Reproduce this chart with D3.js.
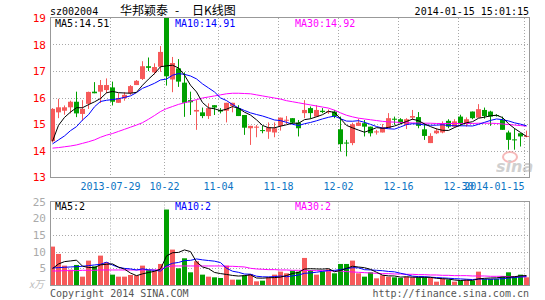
<!DOCTYPE html>
<html>
<head>
<meta charset="utf-8">
<script src="https://cdnjs.cloudflare.com/ajax/libs/d3/7.8.5/d3.min.js"></script>
<style>
body { margin: 0; background: #fff; }
svg text { font-family: "DejaVu Sans Mono", monospace; font-size: 10px; }
</style>
</head>
<body>
<div id="vis"></div>
<script>
// trading days shown (stock suspended between 08-08 and 10-22)
var dates = [
	"2013-07-15","2013-07-16","2013-07-17","2013-07-18","2013-07-19","2013-07-22","2013-07-23","2013-07-24","2013-07-25","2013-07-26",
	"2013-07-29","2013-07-30","2013-07-31","2013-08-01","2013-08-02","2013-08-05","2013-08-06","2013-08-07","2013-08-08","2013-10-22",
	"2013-10-23","2013-10-24","2013-10-25","2013-10-28","2013-10-29","2013-10-30","2013-10-31","2013-11-01","2013-11-04","2013-11-05",
	"2013-11-06","2013-11-07","2013-11-08","2013-11-11","2013-11-12","2013-11-13","2013-11-14","2013-11-15","2013-11-18","2013-11-19",
	"2013-11-20","2013-11-21","2013-11-22","2013-11-25","2013-11-26","2013-11-27","2013-11-28","2013-11-29","2013-12-02","2013-12-03",
	"2013-12-04","2013-12-05","2013-12-06","2013-12-09","2013-12-10","2013-12-11","2013-12-12","2013-12-13","2013-12-16","2013-12-17",
	"2013-12-18","2013-12-19","2013-12-20","2013-12-23","2013-12-24","2013-12-25","2013-12-26","2013-12-27","2013-12-30","2013-12-31",
	"2014-01-02","2014-01-03","2014-01-06","2014-01-07","2014-01-08","2014-01-09","2014-01-10","2014-01-13","2014-01-14","2014-01-15"
];

var open = [
	14.35,15.44,15.50,15.63,15.84,15.38,15.76,16.22,16.22,16.28,
	16.38,15.80,15.97,16.16,16.47,16.70,17.18,16.95,17.16,19.00,
	16.68,17.10,16.56,15.90,15.47,15.44,15.30,15.71,15.53,15.50,
	15.68,15.60,15.34,14.84,14.86,14.77,14.71,14.68,14.93,15.13,
	15.22,15.05,15.41,15.60,15.28,15.50,15.45,15.47,14.80,14.30,
	14.28,14.93,15.03,14.90,14.69,14.68,14.84,15.20,15.18,14.97,
	15.24,15.26,14.80,14.28,14.65,14.68,15.12,14.90,15.28,15.03,
	15.47,15.24,15.53,15.47,15.34,15.15,14.68,14.42,14.65,14.53
];
var high = [
	15.60,15.95,15.70,15.88,16.22,15.90,16.22,16.58,16.66,16.72,
	16.60,16.16,16.20,16.47,16.66,17.37,17.51,17.29,17.94,19.02,
	17.53,17.45,16.95,16.22,15.90,15.62,15.78,15.71,15.60,15.80,
	15.80,15.71,15.34,14.93,14.96,14.93,15.06,15.06,15.24,15.30,
	15.22,15.15,15.90,15.66,15.71,15.60,15.55,15.53,15.28,14.40,
	15.05,15.20,15.15,14.90,14.78,15.00,15.41,15.28,15.22,15.22,
	15.53,15.45,15.03,14.65,14.84,15.10,15.18,15.18,15.35,15.25,
	15.47,15.75,15.62,15.50,15.37,15.28,14.75,14.84,14.65,14.75
];
var low = [
	14.30,15.22,15.35,15.40,15.26,15.13,15.57,16.16,15.79,16.16,
	15.70,15.80,15.88,16.10,16.47,16.66,17.00,16.87,16.97,16.45,
	16.20,16.40,15.27,15.34,14.78,15.22,15.19,15.34,15.40,15.06,
	15.44,15.30,14.59,14.21,14.50,14.65,14.44,14.50,14.75,15.00,
	15.00,14.53,15.22,15.20,15.28,15.41,15.38,15.22,13.96,13.78,
	14.20,14.93,14.53,14.53,14.60,14.68,14.84,14.97,15.00,14.81,
	15.15,14.84,14.40,14.28,14.62,14.65,14.84,14.87,14.93,14.90,
	15.18,15.24,15.20,14.93,15.28,14.78,14.03,14.03,14.15,14.50
];
var close = [
	15.57,15.63,15.63,15.84,15.40,15.57,16.21,16.16,16.47,16.47,
	15.84,15.97,16.10,16.43,16.63,17.18,17.12,17.15,17.72,16.80,
	17.30,16.60,15.80,15.82,15.53,15.30,15.60,15.62,15.47,15.80,
	15.80,15.30,14.86,14.93,14.90,14.74,14.87,14.84,15.24,15.16,
	15.05,14.84,15.53,15.41,15.53,15.45,15.48,15.30,14.24,14.27,
	14.99,15.05,14.90,14.65,14.72,14.87,15.22,15.16,15.05,15.18,
	15.30,14.93,14.55,14.55,14.75,15.03,14.90,15.10,15.03,15.18,
	15.22,15.56,15.30,15.28,15.30,14.78,14.40,14.40,14.53,14.55
];
// volume, unit 万
var volume = [
	11.5,9.3,5.8,4.6,6.0,2.5,7.3,5.6,8.8,6.8,
	3.1,2.5,2.5,3.0,2.9,5.8,4.5,4.3,6.3,22.6,
	10.6,5.0,8.0,3.8,7.1,3.1,2.5,2.3,2.1,5.8,
	1.6,1.6,2.9,3.3,1.1,1.3,2.3,3.1,4.0,3.5,
	4.3,4.0,8.1,4.5,3.1,4.1,4.7,3.5,6.3,6.3,
	7.3,3.5,2.5,3.8,2.0,2.9,2.5,2.3,2.1,2.5,
	2.3,2.3,2.3,2.1,1.0,1.8,1.6,1.0,1.3,1.6,
	1.3,4.0,1.8,1.8,1.8,2.5,3.8,2.5,3.1,2.3
];

// moving averages: the first values need days before the window
var ma5Lead = [14.35, 14.95, 15.25, 15.45];
var ma10Lead = [14.25, 14.40, 14.55, 14.75, 14.90, 15.15, 15.35, 15.65, 15.85];
var ma30 = [
	14.09,14.11,14.14,14.17,14.21,14.27,14.33,14.40,14.50,14.58,
	14.64,14.72,14.80,14.88,14.96,15.05,15.18,15.32,15.47,15.58,
	15.66,15.74,15.80,15.86,15.92,15.98,16.02,16.06,16.10,16.14,
	16.16,16.16,16.15,16.14,16.10,16.06,16.02,15.98,15.94,15.88,
	15.84,15.80,15.76,15.72,15.68,15.64,15.60,15.52,15.42,15.33,
	15.27,15.22,15.19,15.16,15.13,15.10,15.08,15.07,15.06,15.05,
	15.04,15.04,15.03,15.03,15.02,15.02,15.02,15.02,15.02,15.02,
	15.02,15.03,15.03,15.03,15.02,15.00,14.98,14.96,14.94,14.92
];
var vma5Lead = [4.9, 6.3, 7.0, 7.2];
var vma10Lead = [5.1, 5.2, 5.3, 5.4, 5.5, 5.6, 5.8, 6.0, 6.2];
var vma30 = [
	4.2,4.2,4.3,4.3,4.3,4.4,4.4,4.4,4.5,4.5,
	4.5,4.5,4.5,4.5,4.5,4.5,4.5,4.5,4.6,5.4,
	5.7,5.7,5.7,5.7,5.7,5.7,5.7,5.7,5.7,5.6,
	5.6,5.5,5.4,5.0,4.8,4.7,4.6,4.6,4.5,4.5,
	4.4,4.4,4.4,4.3,4.3,4.3,4.2,4.2,4.2,4.0,
	3.9,3.8,3.7,3.6,3.5,3.4,3.4,3.3,3.3,3.2,
	3.2,3.1,3.1,3.0,3.0,2.9,2.9,2.8,2.8,2.8,
	2.7,2.7,2.7,2.6,2.6,2.6,2.5,2.5,2.5,2.5
];

var tickDates = ["2013-07-29","2013-10-22","2013-11-04","2013-11-18","2013-12-02","2013-12-16","2013-12-30","2014-01-15"];
var tickLabels = ["2013-07-29","10-22","11-04","11-18","12-02","12-16","12-30","2014-01-15"];
var priceTicks = [13, 14, 15, 16, 17, 18, 19];
var volTicks = [5, 10, 15, 20, 25];


var width = 545, height = 300;
var left = 50, right = 530;
var pTop = 18, pBottom = 177;
var vTop = 201.5, vBottom = 285;

var RED = "#f65a5a", GREEN = "#00a000", GRID = "#a8a8a8", BORDER = "#999";

function movingAvg(vals, n, lead) {
	return vals.map(function (v, i) {
		return i < n - 1 ? lead[i] : d3.mean(vals.slice(i - n + 1, i + 1));
	});
}
var ma5 = movingAvg(close, 5, ma5Lead);
var ma10 = movingAvg(close, 10, ma10Lead);
var vma5 = movingAvg(volume, 5, vma5Lead);
var vma10 = movingAvg(volume, 10, vma10Lead);

var x = d3.scaleBand().domain(dates).range([left, right]).padding(0);
var y = d3.scaleLinear().domain([13, 19]).range([pBottom, pTop]);
var yv = d3.scaleLinear().domain([0, 25]).range([vBottom, vTop]);

function cx(i) { return x(dates[i]) + 2.5; }
function crisp(v) { return Math.round(v) + 0.5; }

var svg = d3.select("#vis").append("svg")
	.attr("width", width)
	.attr("height", height)
	.style("display", "block");

svg.append("defs").append("clipPath").attr("id", "pclip")
	.append("rect").attr("x", left).attr("y", pTop).attr("width", right - left).attr("height", pBottom - pTop);

// ---------- header ----------
var cjk = "'Noto Sans CJK SC', sans-serif";
svg.append("text").attr("x", 50).attr("y", 15).attr("fill", "#000").text("sz002004");
svg.append("text").attr("x", 120).attr("y", 15)
	.style("font-family", cjk).style("font-size", "12px").attr("fill", "#000").text("华邦颖泰");
svg.append("text").attr("x", 175).attr("y", 15)
	.style("font-family", cjk).style("font-size", "12px").attr("fill", "#000").text("-");
svg.append("text").attr("x", 192).attr("y", 15)
	.style("font-family", cjk).style("font-size", "12px").attr("fill", "#000").text("日K线图");
svg.append("text").attr("x", 529).attr("y", 15).attr("text-anchor", "end").attr("fill", "#000")
	.text("2014-01-15 15:01:15");

// ---------- grids ----------
var grid = svg.append("g");
priceTicks.slice(1, -1).forEach(function (p) {
	grid.append("line").attr("x1", left).attr("x2", right).attr("y1", crisp(y(p))).attr("y2", crisp(y(p)))
		.attr("stroke", GRID).attr("stroke-dasharray", "1,2");
});
volTicks.slice(0, -1).forEach(function (v) {
	grid.append("line").attr("x1", left).attr("x2", right).attr("y1", crisp(yv(v))).attr("y2", crisp(yv(v)))
		.attr("stroke", GRID).attr("stroke-dasharray", "1,2");
});
tickDates.forEach(function (d) {
	[[pTop, pBottom], [vTop, vBottom]].forEach(function (r) {
		grid.append("line").attr("x1", x(d) + 0.5).attr("x2", x(d) + 0.5).attr("y1", r[0]).attr("y2", r[1])
			.attr("stroke", GRID).attr("stroke-dasharray", "1,2");
	});
});

// ---------- axes ----------
var yAxis = svg.append("g").attr("transform", "translate(" + left + ",0)")
	.call(d3.axisLeft(y).tickValues(priceTicks).tickSize(0).tickPadding(4).tickFormat(d3.format("d")));
yAxis.select(".domain").remove();
yAxis.selectAll("text").attr("fill", "#f00").style("font-size", "11px");

var vAxis = svg.append("g").attr("transform", "translate(" + left + ",0)")
	.call(d3.axisLeft(yv).tickValues(volTicks).tickSize(0).tickPadding(4));
vAxis.select(".domain").remove();
vAxis.selectAll("text").attr("fill", "#aaa").style("font-size", "11px");

var xAxis = svg.append("g").attr("transform", "translate(-2.5," + pBottom + ")")
	.call(d3.axisBottom(x).tickValues(tickDates).tickSize(0).tickPadding(6)
		.tickFormat(function (d, i) { return tickLabels[i]; }));
xAxis.select(".domain").remove();
xAxis.selectAll("text").attr("fill", "#0c74c4");
xAxis.selectAll("text").filter(function (d, i) { return i === tickDates.length - 1; })
	.attr("text-anchor", "end").attr("x", 0);

// ---------- candles ----------
var candles = svg.append("g").attr("clip-path", "url(#pclip)");
dates.forEach(function (d, i) {
	var up = close[i] >= open[i];
	var col = up ? RED : GREEN;
	candles.append("line")
		.attr("x1", cx(i)).attr("x2", cx(i))
		.attr("y1", y(high[i])).attr("y2", y(low[i]))
		.attr("stroke", col);
	var top = y(Math.max(open[i], close[i]));
	var h = Math.max(1, y(Math.min(open[i], close[i])) - top);
	candles.append("rect")
		.attr("x", x(d)).attr("y", top)
		.attr("width", x.bandwidth() - 1).attr("height", h)
		.attr("fill", col);
});

var line = function (scale) {
	return d3.line().x(function (v, i) { return cx(i); }).y(function (v) { return scale(v); });
};
[[ma30, "#f0f"], [ma10, "#00f"], [ma5, "#000"]].forEach(function (s) {
	candles.append("path").attr("d", line(y)(s[0])).attr("fill", "none").attr("stroke", s[1]).attr("stroke-width", 1);
});

// ---------- volume ----------
var vol = svg.append("g");
dates.forEach(function (d, i) {
	vol.append("rect")
		.attr("x", x(d)).attr("y", yv(volume[i]))
		.attr("width", x.bandwidth() - 1).attr("height", yv(0) - yv(volume[i]))
		.attr("fill", close[i] >= open[i] ? RED : GREEN);
});
[[vma30, "#f0f"], [vma10, "#00f"], [vma5, "#000"]].forEach(function (s) {
	vol.append("path").attr("d", line(yv)(s[0])).attr("fill", "none").attr("stroke", s[1]).attr("stroke-width", 1);
});

// ---------- frames ----------
svg.append("rect").attr("x", left + 0.5).attr("y", pTop - 0.5).attr("width", right - left - 1).attr("height", pBottom - pTop + 1)
	.attr("fill", "none").attr("stroke", BORDER);
svg.append("rect").attr("x", left + 0.5).attr("y", vTop).attr("width", right - left - 1).attr("height", vBottom - vTop + 0.5)
	.attr("fill", "none").attr("stroke", BORDER);

// ---------- legends ----------
svg.append("text").attr("x", 55).attr("y", 27).attr("fill", "#000").text("MA5:14.51");
svg.append("text").attr("x", 175).attr("y", 27).attr("fill", "#00f").text("MA10:14.91");
svg.append("text").attr("x", 295).attr("y", 27).attr("fill", "#f0f").text("MA30:14.92");
svg.append("text").attr("x", 55).attr("y", 210).attr("fill", "#000").text("MA5:2");
svg.append("text").attr("x", 175).attr("y", 210).attr("fill", "#00f").text("MA10:2");
svg.append("text").attr("x", 295).attr("y", 210).attr("fill", "#f0f").text("MA30:2");

svg.append("text").attr("x", 29).attr("y", 288).attr("fill", "#bbb")
	.style("font-style", "italic").style("font-family", cjk).style("font-size", "10px").text("x万");
svg.append("text").attr("x", 50).attr("y", 297).attr("fill", "#555").text("Copyright 2014 SINA.COM");
svg.append("text").attr("x", 529).attr("y", 297).attr("text-anchor", "end").attr("fill", "#555").text("http://finance.sina.com.cn");

// sina watermark
var wm = svg.append("g").attr("opacity", 0.55);
wm.append("ellipse").attr("cx", 510).attr("cy", 157).attr("rx", 7).attr("ry", 5)
	.attr("fill", "none").attr("stroke", "#f08080").attr("stroke-width", 2);
wm.append("text").attr("x", 496).attr("y", 172)
	.style("font-family", "'DejaVu Sans', sans-serif").style("font-size", "16px")
	.style("font-weight", "bold").style("font-style", "italic")
	.attr("fill", "#aaa").text("sina");
</script>
</body>
</html>
